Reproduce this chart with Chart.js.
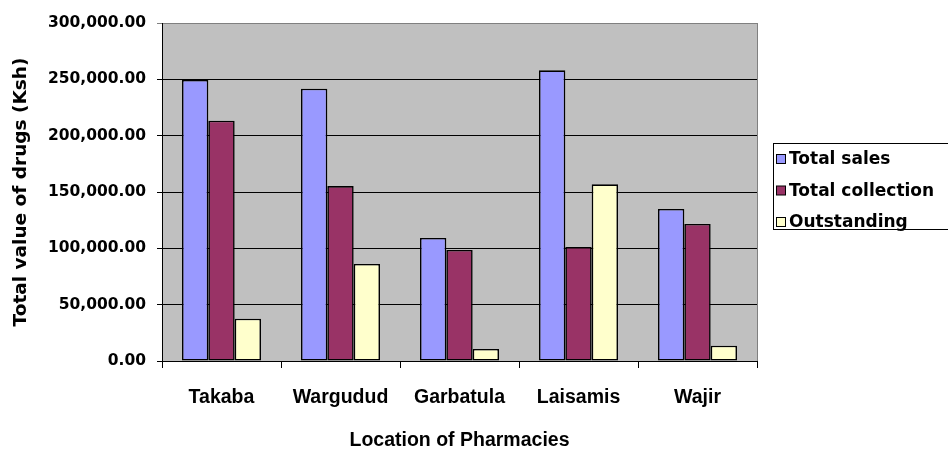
<!DOCTYPE html>
<html>
<head>
<meta charset="utf-8">
<script src="https://cdn.jsdelivr.net/npm/chart.js@4/dist/chart.umd.min.js"></script>
<style>
  html, body { margin: 0; padding: 0; background: #ffffff; }
  #wrap { width: 948px; height: 450px; }
</style>
</head>
<body>
<div id="wrap"><canvas id="pharmacyChart" width="948" height="450"></canvas></div>
<script>
const categories = ["Takaba", "Wargudud", "Garbatula", "Laisamis", "Wajir"];
const totalSales = [249400, 241700, 109200, 258000, 134900];
const totalCollection = [213300, 155300, 98500, 101200, 121600];
const outstanding = [37500, 86100, 10700, 156800, 13600];
const yTicks = [0, 50000, 100000, 150000, 200000, 250000, 300000];

const seriesNames = ["Total sales", "Total collection", "Outstanding"];
const seriesColors = ["#9999FF", "#993366", "#FFFFCC"];

const tickFont = { family: "DejaVu Sans", weight: "bold", size: 15.5 };
const catFont = { family: "Liberation Sans", weight: "bold", size: 19.5 };

// grey plot background + grey right frame
const plotFrame = {
    id: "plotFrame",
    beforeDraw(chart) {
        const { ctx, chartArea: a } = chart;
        ctx.save();
        ctx.fillStyle = "#C0C0C0";
        ctx.fillRect(a.left, a.top, a.right - a.left, a.bottom - a.top);
        ctx.restore();
    },
    beforeDatasetsDraw(chart) {
        const { ctx, chartArea: a } = chart;
        ctx.save();
        ctx.strokeStyle = "#808080";
        ctx.lineWidth = 1;
        ctx.beginPath();
        ctx.moveTo(Math.round(a.right) + 0.5, a.top);
        ctx.lineTo(Math.round(a.right) + 0.5, a.bottom);
        ctx.stroke();
        ctx.restore();
    }
};

// boxed legend on the right, like the spreadsheet one
const boxLegend = {
    id: "boxLegend",
    afterDraw(chart) {
        const { ctx } = chart;
        ctx.save();
        ctx.strokeStyle = "#000";
        ctx.lineWidth = 1;
        ctx.strokeRect(773.5, 143.5, 180, 86);
        ctx.font = "bold 17px 'DejaVu Sans'";
        ctx.textBaseline = "middle";
        ctx.textAlign = "left";
        const rows = [159, 190.5, 222];
        chart.data.datasets.forEach((ds, i) => {
            const y = rows[i];
            ctx.fillStyle = ds.backgroundColor;
            ctx.fillRect(776.5, y - 4.5, 9, 9);
            ctx.strokeRect(776.5, y - 4.5, 9, 9);
            ctx.fillStyle = "#000";
            ctx.fillText(ds.label, 789, y + 1);
        });
        ctx.restore();
    }
};

const datasets = [totalSales, totalCollection, outstanding].map((vals, i) => ({
    label: seriesNames[i],
    data: vals,
    backgroundColor: seriesColors[i],
    borderColor: "#000000",
    borderWidth: 1.6,
    borderSkipped: false,
    categoryPercentage: 0.664,
    barPercentage: 1.0
}));

new Chart(document.getElementById("pharmacyChart"), {
    type: "bar",
    data: { labels: categories, datasets: datasets },
    plugins: [plotFrame, boxLegend],
    options: {
        responsive: false,
        animation: false,
        devicePixelRatio: 1,
        layout: { padding: { top: 23, right: 191, left: 0, bottom: 0 } },
        plugins: {
            legend: { display: false },
            tooltip: { enabled: false }
        },
        scales: {
            x: {
                grid: {
                    offset: true,
                    drawOnChartArea: false,
                    color: "#000",
                    tickLength: 7
                },
                border: { color: "#000", width: 1 },
                ticks: {
                    color: "#000",
                    font: catFont,
                    padding: 18,
                    maxRotation: 0
                },
                title: {
                    display: true,
                    text: "Location of Pharmacies",
                    color: "#000",
                    font: { family: "Liberation Sans", weight: "bold", size: 19.5, lineHeight: 1 },
                    padding: { top: 0, bottom: 0 }
                },
                afterFit(scale) { scale.height = 89; }
            },
            y: {
                min: 0,
                max: 300000,
                afterBuildTicks(scale) {
                    scale.ticks = yTicks.map(v => ({ value: v }));
                },
                grid: {
                    color: c => (c.tick && c.tick.value === 300000) ? "#808080" : "#000",
                    tickLength: 5
                },
                border: { color: "#000", width: 1 },
                ticks: {
                    color: "#000",
                    font: tickFont,
                    padding: 11,
                    callback: v => Number(v).toLocaleString("en-US", {
                        minimumFractionDigits: 2,
                        maximumFractionDigits: 2
                    })
                },
                title: {
                    display: true,
                    text: "Total value of drugs (Ksh)",
                    color: "#000",
                    font: { family: "DejaVu Sans", weight: "bold", size: 18.5, lineHeight: 1 },
                    padding: { top: 12, bottom: 0 }
                },
                afterFit(scale) { scale.width = 162; }
            }
        }
    }
});
</script>
</body>
</html>
